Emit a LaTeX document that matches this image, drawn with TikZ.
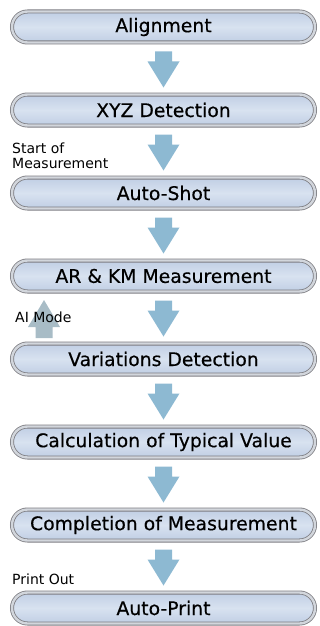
\documentclass[tikz,border=0pt]{standalone}
\usepackage{fontspec}
\setmainfont{DejaVu Sans}
\newfontfamily\boxfont{DejaVu Sans}[FakeBold=0.4]
\usetikzlibrary{shapes.misc,calc}
\definecolor{arrowblue}{RGB}{141,185,210}
\definecolor{aigray}{RGB}{168,188,198}
\definecolor{boxedge}{RGB}{125,125,130}
\definecolor{boxband}{RGB}{210,214,220}
\definecolor{boxmid}{RGB}{216,226,240}
\definecolor{boxout}{RGB}{192,206,228}
\tikzset{
  x=1pt,y=1pt,
  flowbox/.style={rounded rectangle, minimum width=303pt, minimum height=31pt,
    inner sep=0pt, draw=boxedge, line width=0.8pt, double=boxband, double distance=2.4pt,
    top color=boxout, bottom color=boxout, middle color=boxmid,
    font=\boxfont\fontsize{18.8}{21}\selectfont, text=black},
  sidelabel/.style={anchor=base west, inner sep=0pt, font=\fontsize{14}{16}\selectfont}
}
\begin{document}
\begin{tikzpicture}
\useasboundingbox (0,0) rectangle (320,-626);
\node[flowbox] (b1) at (163.5,-27) {Alignment};
\node[flowbox] (b2) at (163.5,-110) {XYZ Detection};
\node[flowbox] (b3) at (163.5,-193) {Auto-Shot};
\node[flowbox] (b4) at (163.5,-276) {AR \& KM Measurement};
\node[flowbox] (b5) at (163.5,-359) {Variations Detection};
\node[flowbox] (b6) at (163.5,-442) {Calculation of Typical Value};
\node[flowbox] (b7) at (163.5,-525) {Completion of Measurement};
\node[flowbox] (b8) at (163.5,-608) {Auto-Print};
\foreach \a/\b in {b1/b2,b2/b3,b3/b4,b4/b5,b5/b6,b6/b7,b7/b8}{
  \coordinate (m) at ($(\a.south)!0.5!(\b.north)$);
  \fill[arrowblue] ($(m)+(-8.5,17)$) -- ($(m)+(8.5,17)$) -- ($(m)+(8.5,7)$) -- ($(m)+(16,7)$)
    -- ($(m)+(0,-19)$) -- ($(m)+(-16,7)$) -- ($(m)+(-8.5,7)$) -- cycle;
}
% AI mode up arrow
\coordinate (ai) at (44,-338);
\fill[aigray] ($(ai)+(-8.5,0)$) -- ($(ai)+(8.5,0)$) -- ($(ai)+(8.5,11)$) -- ($(ai)+(16,11)$)
  -- ($(ai)+(0,38)$) -- ($(ai)+(-16,11)$) -- ($(ai)+(-8.5,11)$) -- cycle;
\node[sidelabel] (l1) at (12,-153) {Start of};
\node[sidelabel] (l2) at (12,-168) {Measurement};
\node[sidelabel] (l3) at (15,-322) {AI Mode};
\node[sidelabel] (l4) at (12,-584) {Print Out};
\end{tikzpicture}
\end{document}
